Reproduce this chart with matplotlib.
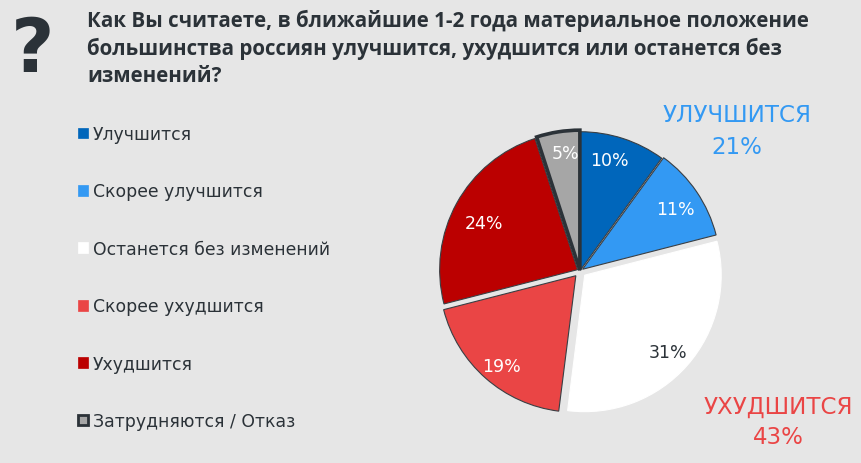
import math
import matplotlib
matplotlib.use("Agg")
import matplotlib.pyplot as plt

W, H = 861, 464
BG = "#e6e6e6"
INK = "#2b3238"

categories = ["Улучшится", "Скорее улучшится", "Останется без изменений",
              "Скорее ухудшится", "Ухудшится", "Затрудняются / Отказ"]
values = [10, 11, 31, 19, 24, 5]
colors = ["#0066bb", "#3399f3", "#ffffff", "#ea4545", "#bb0000", "#a6a6a6"]
explode = [0.005, 0.022, 0.045, 0.045, 0.02, 0.006]
wedge_radii = [0.99, 0.985, 0.975, 0.975, 0.985, 1]
label_radii = [0.82, 0.815, 0.85, 0.88, 0.765, 0.85]
label_angles = [15.1, 57.1, 132.6, 219.7, 296.8, 352.8]
label_colors = ["white", "white", INK, "white", "white", "white"]
title_lines = ["Как Вы считаете, в ближайшие 1-2 года материальное положение",
               "большинства россиян улучшится, ухудшится или останется без",
               "изменений?"]

fig = plt.figure(figsize=(W / 100, H / 100), dpi=100, facecolor=BG)
R = 140
cx, cy = 580, 272
ax = fig.add_axes([(cx - R) / W, 1 - (cy + R) / H, 2 * R / W, 2 * R / H])
ax.set_facecolor("none")
wedges, texts = ax.pie(values, colors=colors, explode=explode, startangle=90, counterclock=False,
                       radius=1, labels=None,
                       wedgeprops=dict(edgecolor="#3a3f44", linewidth=0.8))
ax.set_xlim(-1, 1); ax.set_ylim(-1, 1)
for w, r in zip(wedges, wedge_radii):
    w.set_radius(r)
wedges[2].set_edgecolor("white")
wedges[5].set_edgecolor("#2b3238"); wedges[5].set_linewidth(2.6)
wedges[5].set_zorder(5)

for v, r, a, col in zip(values, label_radii, label_angles, label_colors):
    mid = math.radians(90 - a)
    ax.text(r * math.cos(mid), r * math.sin(mid), f"{v}%", color=col, fontsize=12.5,
            ha="center", va="center", zorder=6)

leg = fig.legend(wedges, categories, loc="upper left", bbox_to_anchor=(78 / W, 1 - 126 / H),
                 frameon=False, fontsize=12.4, labelcolor=INK, labelspacing=2.29,
                 handlelength=0.58, handleheight=0.58, handletextpad=0.29, borderpad=0, borderaxespad=0)
for i, h in enumerate(leg.get_patches()):
    if i < 5:
        h.set_edgecolor(colors[i])
    h.set_linewidth(0.5 if i < 5 else 2)

ys = [21, 49, 77]
for line, y in zip(title_lines, ys):
    fig.text(87 / W, 1 - y / H, line, fontsize=14.8, fontfamily="Open Sans", fontweight="bold",
             color=INK, va="center", ha="left")
fig.text(33 / W, 1 - 52 / H, "?", fontsize=54, fontfamily="DejaVu Sans", fontweight="bold",
         color=INK, ha="center", va="center")

fig.text(737 / W, 1 - 116 / H, "УЛУЧШИТСЯ", fontsize=16.6, color="#3399f3", ha="center", va="center")
fig.text(737 / W, 1 - 147 / H, "21%", fontsize=16.6, color="#3399f3", ha="center", va="center")
fig.text(778 / W, 1 - 407 / H, "УХУДШИТСЯ", fontsize=16.6, color="#ea4545", ha="center", va="center")
fig.text(778 / W, 1 - 438 / H, "43%", fontsize=16.6, color="#ea4545", ha="center", va="center")

fig.savefig("out.png", dpi=100, facecolor=BG)
